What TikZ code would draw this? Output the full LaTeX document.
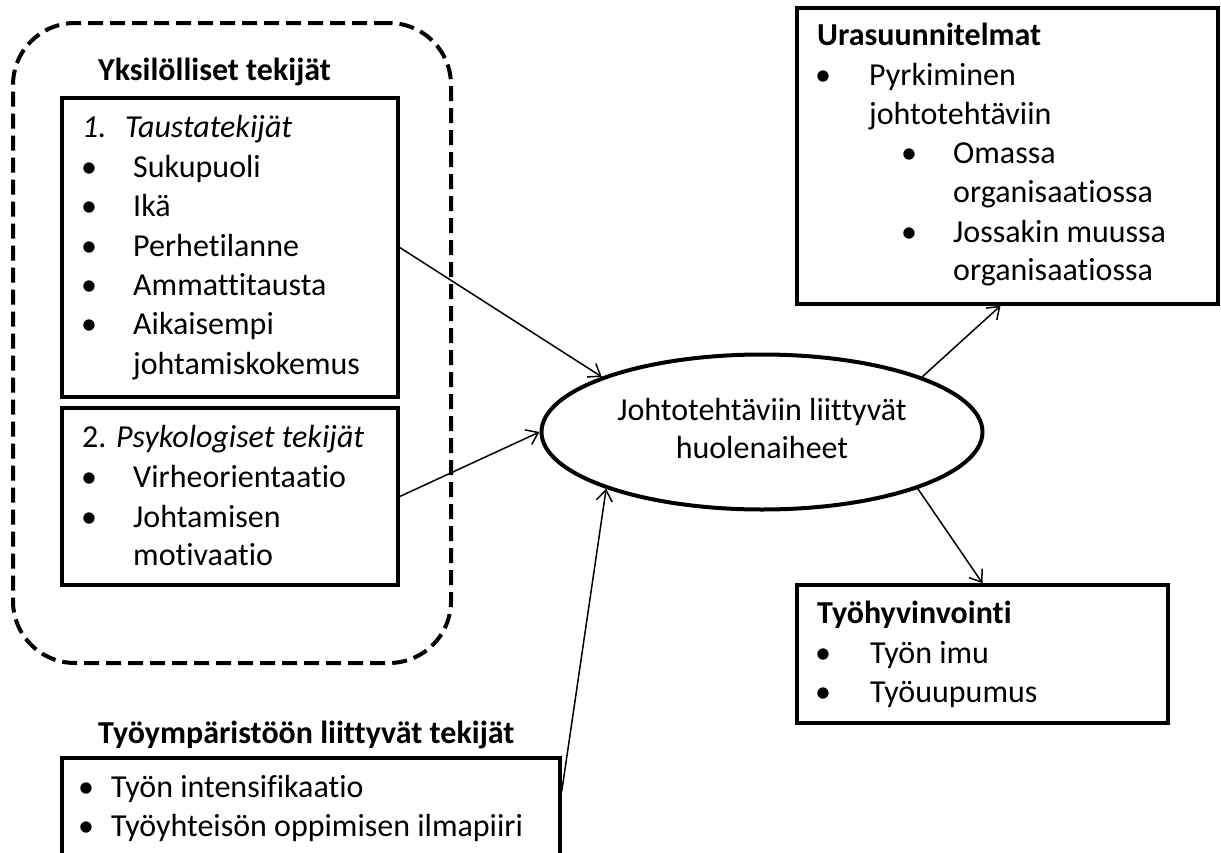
\documentclass[tikz,border=0pt]{standalone}
\usepackage{fontspec}
\setmainfont{Carlito}[Ligatures=NoCommon]
\usetikzlibrary{arrows.meta}
\usetikzlibrary{shapes.geometric}

\tikzset{
  txt/.style={anchor=base west, inner sep=0pt},
  head/.style={txt, font=\fontsize{32}{38}\selectfont\bfseries},
  box/.style={draw, rectangle, line width=3.5pt, inner sep=0pt},
  conn/.style={line width=1.5pt, -{Straight Barb[length=11pt,width=16pt]}},
}

\begin{document}
\begin{tikzpicture}[x=1pt,y=-1pt,font=\fontsize{32}{38}\selectfont]
      \fill[white] (0,0) rectangle (1221,852);
      \clip (0,0) rectangle (1221,852);

      % group of individual factors
      \node[draw, rectangle, line width=4pt, dash pattern=on 15pt off 7pt,
            rounded corners=62pt, minimum width=438pt, minimum height=640pt] (yks) at (232,343) {};
      \node[head] (ykstit) at (98,80) {Yksilölliset tekijät};

      % boxes
      \node[box, minimum width=336pt, minimum height=299pt] (taus) at (230,247.5) {};
      \node[box, minimum width=336pt, minimum height=177pt] (psyk) at (230,496.5) {};
      \node[box, minimum width=498pt, minimum height=112pt] (tyoy) at (311,814) {};
      \node[box, minimum width=421pt, minimum height=296pt] (ura) at (1007.5,156) {};
      \node[box, minimum width=371pt, minimum height=138pt] (hyvi) at (982.5,654) {};
      \node[draw, ellipse, line width=4pt, minimum width=441pt, minimum height=155pt,
            inner sep=0pt] (huol) at (762,432)
            {\raisebox{-6pt}{\begin{tabular}{@{}c@{}}Johtotehtäviin liittyvät\\huolenaiheet\end{tabular}}};

      % 1. background factors
      \node[txt] (tausn) at (82,137) {\itshape 1.};
      \node[txt] (taust) at (125,137) {\itshape Taustatekijät};
      \foreach \y/\t [count=\i] in {177/Sukupuoli,216/Ikä,256/Perhetilanne,295/Ammattitausta,334/Aikaisempi} {
        \node[txt] (tausb\i) at (81,\y) {•};
        \node[txt] (taus\i) at (133,\y) {\t};
      }
      \node[txt] (taus6) at (133,374) {johtamiskokemus};

      % 2. psychological factors
      \node[txt] (psykt) at (82,447) {2. \textit{Psykologiset tekijät}};
      \foreach \y/\t [count=\i] in {487/Virheorientaatio,527/Johtamisen} {
        \node[txt] (psykb\i) at (81,\y) {•};
        \node[txt] (psyk\i) at (133,\y) {\t};
      }
      \node[txt] (psyk3) at (133,565) {motivaatio};

      % work environment
      \node[head] (tyoytit) at (98,743) {Työympäristöön liittyvät tekijät};
      \foreach \y/\t [count=\i] in {797/Työn intensifikaatio,836/Työyhteisön oppimisen ilmapiiri} {
        \node[txt] (tyoyb\i) at (78,\y) {•};
        \node[txt] (tyoy\i) at (111,\y) {\t};
      }

      % career plans
      \node[head] (uratit) at (817,45) {Urasuunnitelmat};
      \node[txt] (urab1) at (815,85) {•};
      \node[txt] (ura1) at (869,85) {Pyrkiminen};
      \node[txt] (ura2) at (869,124) {johtotehtäviin};
      \node[txt] (urab2) at (901,163) {•};
      \node[txt] (ura3) at (953,163) {Omassa};
      \node[txt] (ura4) at (953,202) {organisaatiossa};
      \node[txt] (urab3) at (901,242) {•};
      \node[txt] (ura5) at (953,242) {Jossakin muussa};
      \node[txt] (ura6) at (953,280) {organisaatiossa};

      % well-being
      \node[head] (hyvitit) at (817,623) {Työhyvinvointi};
      \foreach \y/\t [count=\i] in {663/Työn imu,702/Työuupumus} {
        \node[txt] (hyvib\i) at (815,\y) {•};
        \node[txt] (hyvi\i) at (870,\y) {\t};
      }

      % connectors
      \draw[conn] (taus.east) -- (huol.161);
      \draw[conn] (psyk.east) -- (huol.west);
      \draw[conn] ([yshift=-35pt]tyoy.north east) -- (huol.200);
      \draw[conn] (huol.19) -- ([xshift=-7pt]ura.south);
      \draw[conn] (huol.-20) -- (hyvi.north);
    \end{tikzpicture}
\end{document}
